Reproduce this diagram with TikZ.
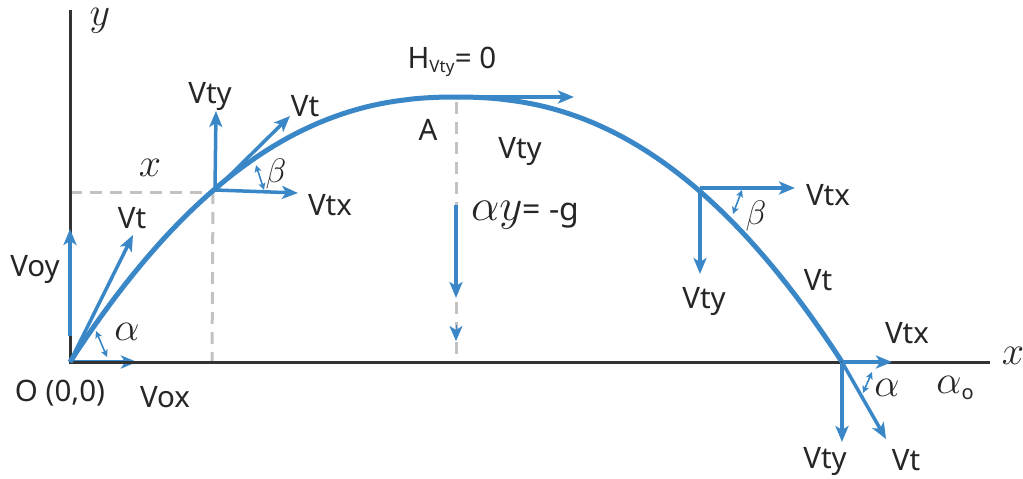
\RequirePackage{fix-cm}
\documentclass[tikz,border=0pt]{standalone}
\usepackage{fontspec}
\setmainfont{Noto Sans}
\usetikzlibrary{arrows.meta}
\definecolor{traj}{HTML}{3A87C8}
\definecolor{axisc}{HTML}{333333}
\definecolor{dashc}{HTML}{C2C2C2}
\definecolor{txt}{HTML}{262626}
\begin{document}
\begin{tikzpicture}[x=1pt,y=-1pt,
  vec/.style={traj, line width=3.5pt, -{Stealth[length=16pt,width=13pt,inset=4pt]}},
  angarr/.style={traj, line width=1.6pt, {Stealth[length=7pt,width=7pt,inset=1.5pt]}-{Stealth[length=7pt,width=7pt,inset=1.5pt]}},
  lbl/.style={text=txt, font=\fontsize{29.5}{32}\selectfont, inner sep=0pt},
  mlbl/.style={text=txt, font=\fontsize{40}{44}\selectfont, inner sep=0pt},
  blbl/.style={text=txt, font=\fontsize{34}{38}\selectfont, inner sep=0pt},
  guide/.style={dashc, line width=3pt, dash pattern=on 12pt off 8pt},
  axisline/.style={axisc, line width=3pt},
  pathline/.style={traj, line width=5pt}]
\useasboundingbox (0,0) rectangle (1023,479);
% key points
\coordinate (O) at (70,362);
\coordinate (Ytop) at (70,10);
\coordinate (Xend) at (990,362);
\coordinate (P1) at (215,190);
\coordinate (A) at (456,97);
\coordinate (P2) at (700,188);
\coordinate (L) at (842,362);
% guides
\coordinate (G1a) at (70,192);
\coordinate (G1b) at (213,192);
\coordinate (G1c) at (212,362);
\coordinate (GAa) at (456,102);
\coordinate (GAb) at (456,362);
\draw[guide] (G1a) -- (G1b);
\draw[guide] (G1b) -- (G1c);
\draw[guide] (GAa) -- (GAb);
% Vox under axis
\coordinate (VoxT) at (137,362);
\draw[vec] (O) -- (VoxT);
% axes
\draw[axisline] (Ytop) -- (O) -- (Xend);
% origin vectors
\coordinate (VoyS) at (70,336);
\coordinate (VoyT) at (70,229);
\draw[vec] (VoyS) -- (VoyT);
\coordinate (VtOT) at (133,235);
\draw[vec] (O) -- (VtOT);
\coordinate (aOa) at (96,331);
\coordinate (aOb) at (107,357);
\draw[angarr] (aOa) -- (aOb);
% trajectory
\draw[pathline] plot[domain=-1:1,samples=100] ({456+386*\x},{97+265*abs(\x)^2.25});
% P1 vectors
\coordinate (P1ty) at (216,111);
\coordinate (P1t) at (290,116);
\coordinate (P1tx) at (298,193);
\draw[vec] (P1) -- (P1ty);
\draw[vec] (P1) -- (P1t);
\draw[vec] (P1) -- (P1tx);
\coordinate (bPa) at (256,165);
\coordinate (bPb) at (264,190);
\draw[angarr] (bPa) -- (bPb);
% apex vectors
\coordinate (Atx) at (574,97);
\draw[vec] (A) -- (Atx);
\coordinate (AyS) at (456,205);
\coordinate (AyT) at (456,298);
\draw[vec] (AyS) -- (AyT);
\coordinate (AsS) at (456,325);
\coordinate (AsT) at (456,341);
\draw[traj, line width=0.5pt, -{Stealth[length=15pt,width=13pt,inset=4pt]}] (AsS) -- (AsT);
% P2 vectors
\coordinate (P2tx) at (795,188);
\coordinate (P2ty) at (700,274);
\draw[vec] (P2) -- (P2tx);
\draw[vec] (P2) -- (P2ty);
\coordinate (bQa) at (742,190);
\coordinate (bQb) at (733,214);
\draw[angarr] (bQa) -- (bQb);
% landing vectors
\coordinate (Ltx) at (892,362);
\coordinate (Lty) at (842,442);
\coordinate (Lt) at (886,439);
\draw[vec] (L) -- (Ltx);
\draw[vec] (L) -- (Lty);
\draw[vec] (L) -- (Lt);
\coordinate (aLa) at (872,372);
\coordinate (aLb) at (863,393);
\draw[angarr] (aLa) -- (aLb);
% labels
\node[mlbl] (ylab) at (100,21) {$y$};
\node[mlbl] (xlab1) at (150,168) {$x$};
\node[mlbl] (xlab2) at (1013,356) {$x$};
\node[lbl] (Olab) at (60,393) {O (0,0)};
\node[lbl] (Voxlab) at (165,397) {Vox};
\node[lbl] (Voylab) at (35,270) {Voy};
\node[lbl] (VtO) at (132,218) {Vt};
\node[mlbl] (aO) at (127,332) {$\alpha$};
\node[lbl] (P1tylab) at (210,97) {Vty};
\node[lbl] (P1tlab) at (305,106) {Vt};
\node[lbl] (P1txlab) at (330,205) {Vtx};
\node[blbl] (bP) at (276,174) {$\beta$};
\node[lbl] (Hlab) at (452,62) {H\textsubscript{\fontsize{17}{18}\selectfont Vty}= 0};
\node[lbl] (Alab) at (428,130) {A};
\node[lbl] (Atylab) at (520,152) {Vty};
\node[lbl, anchor=west, font=\fontsize{32}{36}\selectfont] (aylab) at (471,215) {{\fontsize{45}{48}\selectfont$\alpha y$}= -g};
\node[lbl] (P2txlab) at (828,195) {Vtx};
\node[blbl] (bQ) at (756,216) {$\beta$};
\node[lbl] (P2tylab) at (704,302) {Vty};
\node[lbl] (P2tlab) at (818,280) {Vt};
\node[lbl] (Ltxlab) at (907,333) {Vtx};
\node[mlbl] (aL) at (887,388) {$\alpha$};
\node[mlbl] (aLo) at (955,388) {$\alpha$\raisebox{-6pt}{\fontsize{20}{22}\selectfont o}};
\node[lbl] (Ltylab) at (825,462) {Vty};
\node[lbl] (Ltlab) at (906,460) {Vt};
\end{tikzpicture}
\end{document}
